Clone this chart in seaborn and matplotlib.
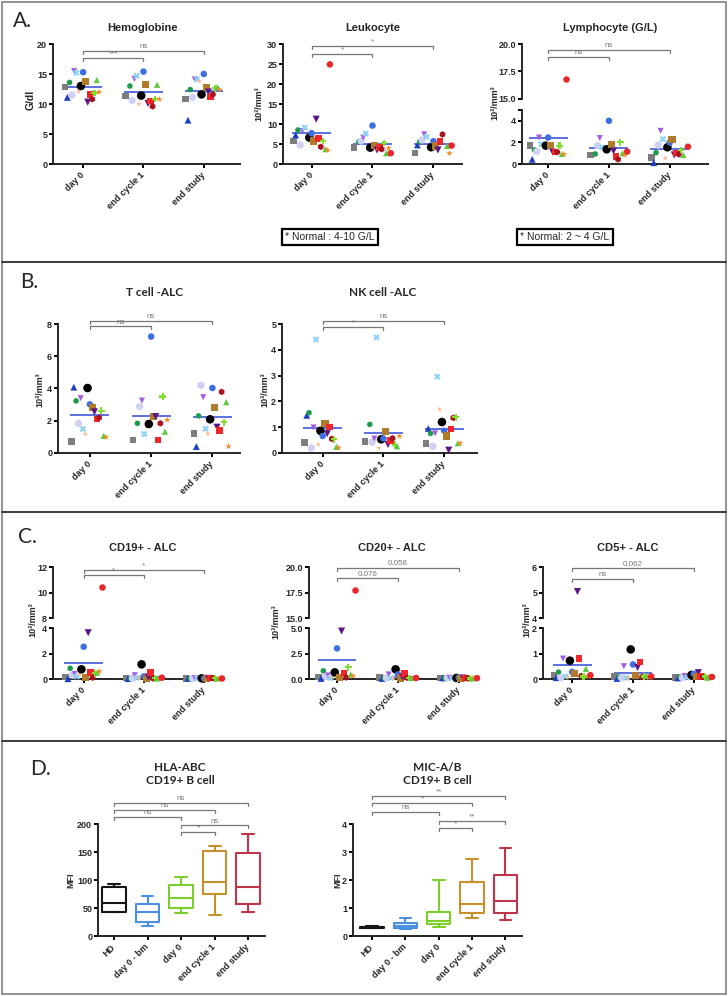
import numpy as np
import pandas as pd
import matplotlib
matplotlib.use("Agg")
import matplotlib.pyplot as plt
from matplotlib.lines import Line2D
from matplotlib.patches import Rectangle
import seaborn as sns

nan = np.nan
times = ["day 0", "end cycle 1", "end study"]
box_groups = ["HD", "day 0 - bm", "day 0", "end cycle 1", "end study"]

# one entry per patient, same order in every list below
patients = ["gray_s", "dblue_tri", "dgreen_c", "lavender_c", "lpurple_v", "lblue_x",
            "peach_star", "black_c", "blue_c", "brown_s", "dpurple_v", "red_s",
            "dred_h", "lime_plus", "green_tri", "orange_star", "red_c"]

# A. blood counts
hb_day0 = [12.8, 11.1, 13.6, 11.5, 15.5, 15.2, 12.1, 13.0, 15.3, 13.7, 10.3, 11.6, 10.8, 11.8, 14.0, 12.0, nan]
hb_cycle1 = [11.3, nan, 13.0, 10.6, 14.2, 14.7, 10.0, 11.4, 15.4, 13.3, 10.1, 10.5, 9.6, 10.8, 13.2, 10.8, nan]
hb_end = [10.8, 7.3, 12.4, 11.1, 14.1, 14.1, 13.8, 11.6, 15.0, 12.8, 12.0, 11.2, 11.6, 12.6, 12.8, 12.4, nan]

leu_day0 = [5.7, 7.25, 8.5, 4.75, 8.25, 9.1, nan, 6.6, 7.7, 5.75, 11.2, 6.4, 4.3, 5.75, 3.7, 3.5, 24.9]
leu_cycle1 = [4.1, nan, 5.6, 5.75, 6.6, 7.6, nan, 4.1, 9.6, 4.6, 3.5, 4.1, 3.7, 5.2, 2.7, 3.9, 2.7]
leu_end = [2.7, 4.75, 5.6, 6.0, 7.4, 6.8, nan, 4.2, 5.7, 4.5, 3.5, 5.6, 7.4, nan, 4.5, 2.7, 4.6]

lym_day0 = [1.7, 0.43, 1.3, 1.15, 2.45, 1.83, nan, 1.7, 2.45, 1.7, 1.1, 1.09, 1.1, 1.7, 0.93, 0.9, 16.8]
lym_cycle1 = [0.84, nan, 0.93, 1.7, 2.4, 1.55, nan, 1.36, 4.0, 1.83, 1.2, 0.68, 0.43, 2.0, 1.0, 0.84, 1.15]
lym_end = [0.59, 0.12, 1.05, 1.75, 3.07, 2.3, 0.55, 1.55, 1.98, 2.3, 0.84, 1.0, 0.9, 1.3, 0.84, nan, 1.6]

# B. T and NK cells
t_day0 = [0.7, 4.08, 3.23, 1.84, 3.4, 1.49, 1.18, 4.03, 3.02, 2.81, 2.55, 2.11, 2.19, 2.63, 1.06, 0.99, nan]
t_cycle1 = [0.8, nan, 1.84, 2.88, 3.25, 1.18, 1.63, 1.8, 7.22, 2.26, 2.26, 0.82, 1.84, 3.5, 1.32, 2.05, nan]
t_end = [1.2, 0.4, 2.3, 4.2, 3.46, 1.5, 1.2, 2.09, 4.03, 2.81, 1.6, 1.38, 3.79, 1.9, 3.15, 0.41, nan]

nk_day0 = [0.4, 1.46, 1.56, 0.2, 0.99, 4.4, 0.33, 0.86, 0.66, 1.15, 0.75, 1.0, 0.55, 0.53, 0.24, 0.2, nan]
nk_cycle1 = [0.45, nan, 1.11, 0.42, 0.56, 4.48, 0.2, 0.53, 0.56, 0.85, 0.33, 0.49, 0.57, 0.32, 0.26, 0.65, nan]
nk_end = [0.36, 0.95, 0.76, 0.26, 0.76, 2.96, 1.69, 1.2, 0.86, 0.66, 0.11, 0.93, 1.36, 1.38, 0.38, 0.38, nan]

# C. B cells
cd19_day0 = [0.15, 0.02, 0.84, 0.3, 0.4, 0.2, 0.4, 0.76, 2.53, 0.15, 3.63, 0.52, 0.1, 0.45, 0.5, 0.6, 10.45]
cd19_cycle1 = [0.08, 0.03, 0.05, 0.06, 0.3, 0.1, 0.08, 1.15, 0.2, 0.05, 0.15, 0.52, 0.05, 0.05, 0.04, 0.05, 0.1]
cd19_end = [0.04, 0.05, 0.03, 0.04, 0.06, 0.05, 0.04, 0.05, 0.05, 0.03, 0.05, 0.06, 0.06, 0.05, 0.04, 0.05, 0.04]

cd20_day0 = [0.2, 0.05, 0.8, 0.25, 0.35, 0.1, 0.2, 0.65, 3.0, 0.15, 4.7, 0.6, 0.15, 1.15, 0.45, 0.3, 17.75]
cd20_cycle1 = [0.15, 0.05, 0.1, 0.1, 0.45, 0.1, 0.08, 0.95, 0.45, 0.1, 0.2, 0.55, 0.12, 0.08, 0.1, 0.1, 0.1]
cd20_end = [0.1, 0.1, 0.1, 0.1, 0.12, 0.08, 0.05, 0.1, 0.15, 0.05, 0.1, 0.08, 0.06, 0.05, 0.06, 0.08, 0.08]

cd5_day0 = [0.15, 0.05, 0.27, 0.05, 0.8, 0.1, 0.08, 0.72, 0.28, 0.2, 5.05, 0.81, 0.12, 0.1, 0.4, 0.1, 0.15]
cd5_cycle1 = [0.1, 0.02, 0.08, 0.05, 0.5, 0.05, 0.05, 1.16, 0.57, 0.12, 0.45, 0.66, 0.08, 0.1, 0.12, 0.06, 0.1]
cd5_end = [0.06, 0.04, 0.08, 0.05, 0.12, 0.06, 0.06, 0.16, 0.2, 0.1, 0.25, 0.1, 0.08, 0.1, 0.05, 0.1, 0.08]

# D. five-number summaries (min, q1, median, q3, max)
hla_hd = [42, 43, 59, 88, 92]
hla_bm = [18, 25, 43, 57, 71]
hla_day0 = [41, 50, 67, 91, 106]
hla_cycle1 = [38, 75, 97, 151, 160]
hla_end = [42, 58, 88, 148, 182]

mic_hd = [0.27, 0.29, 0.31, 0.33, 0.35]
mic_bm = [0.25, 0.29, 0.36, 0.46, 0.64]
mic_day0 = [0.33, 0.42, 0.52, 0.86, 2.0]
mic_cycle1 = [0.64, 0.82, 1.14, 1.93, 2.75]
mic_end = [0.57, 0.82, 1.25, 2.18, 3.14]

# ---- styles ----
palette = dict(zip(patients, ["#7d7d7d", "#1d3fbf", "#1e9b4a", "#cfd0f2", "#a35ee0", "#8ed3f5",
                              "#f9b98e", "#000000", "#3d6fe3", "#b07b2a", "#5a1682", "#f0262b",
                              "#a9131f", "#80e02c", "#5dc93c", "#f68a24", "#e9262c"]))
marker_map = dict(zip(patients, ["s", "^", "o", "o", "v", "X", "*", "o", "o", "s", "v", "s",
                                 "h", "P", "^", "*", "o"]))
size_map = dict(zip(patients, [22, 24, 16, 28, 19, 22, 17, 38, 22, 26, 26, 22, 22, 22, 20, 24, 22]))
box_colors = dict(zip(box_groups, ["#151515", "#4a8fe0", "#7ccf2a", "#c8902c", "#c1354b"]))
MEAN = "#5b6fe0"
GRAY = "#777777"
AX_LW = 1.4
spread = np.linspace(-0.3, 0.3, len(patients))

sns.set_theme(style="ticks")
plt.rcParams["font.family"] = ["Liberation Sans", "DejaVu Sans"]

W, H = 728, 996
fig = plt.figure(figsize=(W / 100, H / 100), dpi=100)
fig.patch.set_facecolor("white")


def add_ax(l, t, r, b):
    return fig.add_axes([l / W, 1 - b / H, (r - l) / W, (b - t) / H])


def ftext(x, y, s, **kw):
    kw.setdefault("ha", "center")
    kw.setdefault("va", "center")
    fig.text(x / W, 1 - y / H, s, **kw)


def style_axis(ax, xlim, ylim, yticks, ylabels=None, xlabels=None):
    ax.set_xlim(xlim)
    ax.set_ylim(ylim)
    ax.set_yticks(yticks)
    if ylabels is not None:
        ax.set_yticklabels(ylabels)
    ax.spines["top"].set_visible(False)
    ax.spines["right"].set_visible(False)
    ax.spines["left"].set_linewidth(AX_LW)
    if xlabels is not None:
        ax.spines["bottom"].set_linewidth(AX_LW)
        ax.set_xticks(range(len(xlabels)))
        ax.set_xticklabels(xlabels, rotation=45, ha="right", va="center",
                           rotation_mode="anchor")
    else:
        ax.spines["bottom"].set_visible(False)
        ax.set_xticks([])
    ax.tick_params(length=3, width=AX_LW, labelsize=6.5, pad=1.2, color="black")
    ax.tick_params(axis="x", pad=4)
    for lab in ax.get_xticklabels() + ax.get_yticklabels():
        lab.set_fontweight("bold")
    ax.set_xlabel("")
    ax.set_ylabel("")
    ax.set_facecolor("none")


def scatter(ax, series, lo, hi, mean=True):
    rows = []
    for t, vals in enumerate(series):
        for p, v in enumerate(vals):
            if not np.isnan(v):
                rows.append((patients[p], t + spread[p], v, t))
    df = pd.DataFrame(rows, columns=["patient", "x", "value", "time"])
    sub = df[(df["value"] >= lo) & (df["value"] <= hi)]
    sns.scatterplot(data=sub, x="x", y="value", hue="patient", style="patient",
                    size="patient", palette=palette, markers=marker_map, sizes=size_map,
                    linewidth=0, legend=False, ax=ax, clip_on=False, zorder=3)
    if mean:
        means = df.groupby("time")["value"].mean()
        ax.hlines(means.values, means.index - 0.32, means.index + 0.32,
                  color=MEAN, lw=1.4, zorder=2)


def boxes(ax, groups):
    df = pd.DataFrame({"group": np.repeat(box_groups, [len(g) for g in groups]),
                       "value": np.concatenate(groups)})
    sns.boxplot(data=df, x="group", y="value", hue="group", order=box_groups,
                hue_order=box_groups, palette=box_colors, fill=False, whis=(0, 100),
                width=0.7, linewidth=1.5, saturation=1, legend=False, ax=ax)


def bracket(ax, x1, x2, y, label):
    lo, hi = ax.get_ylim()
    tick = 3.0 / (ax.get_position().height * H) * (hi - lo)
    ax.plot([x1, x1, x2, x2], [y - tick, y, y, y - tick], color=GRAY, lw=0.9,
            clip_on=False, zorder=4)
    ax.text((x1 + x2) / 2, y + 0.2 * tick, label, ha="center", va="bottom",
            fontsize=5.8, color=GRAY, clip_on=False)


# ---- A ----
ax = add_ax(53, 44, 240, 164)
scatter(ax, [hb_day0, hb_cycle1, hb_end], 0, 20)
style_axis(ax, (-0.5, 2.6), (0, 20), [0, 5, 10, 15, 20], xlabels=times)
bracket(ax, 0, 2, 18.9, "ns")
bracket(ax, 0, 1, 17.6, "***")

ax = add_ax(283, 44, 462, 164)
scatter(ax, [leu_day0, leu_cycle1, leu_end], 0, 30)
style_axis(ax, (-0.47, 2.47), (0, 30), [0, 5, 10, 15, 20, 25, 30], xlabels=times)
bracket(ax, 0, 2, 29.6, "*")
bracket(ax, 0, 1, 27.5, "*")

lym = [lym_day0, lym_cycle1, lym_end]
ax = add_ax(522, 44, 708, 99)
scatter(ax, lym, 15, 20, mean=False)
style_axis(ax, (-0.43, 2.63), (15, 20), [15, 17.5, 20], ["15.0", "17.5", "20.0"])
bracket(ax, 0, 2, 19.45, "ns")
bracket(ax, 0, 1, 18.85, "ns")
ax = add_ax(522, 110, 708, 164)
scatter(ax, lym, 0, 5)
style_axis(ax, (-0.43, 2.63), (0, 5), [0, 2, 4, 5], ["0", "2", "4", ""], xlabels=times)

# ---- B ----
ax = add_ax(58, 324, 240, 453)
scatter(ax, [t_day0, t_cycle1, t_end], 0, 8)
style_axis(ax, (-0.52, 2.45), (0, 8), [0, 2, 4, 6, 8], xlabels=times)
bracket(ax, 0, 2, 8.2, "ns")
bracket(ax, 0, 1, 7.85, "ns")

ax = add_ax(282, 324, 477, 453)
scatter(ax, [nk_day0, nk_cycle1, nk_end], 0, 5)
style_axis(ax, (-0.67, 2.54), (0, 5), [0, 1, 2, 3, 4, 5], xlabels=times)
bracket(ax, 0, 2, 5.12, "ns")
bracket(ax, 0, 1, 4.9, "*")

# ---- C ----
broken = [
    ([cd19_day0, cd19_cycle1, cd19_end], 53, 222, (-0.51, 2.3),
     (8, 12), [8, 10, 12], ["8", "10", "12"], (0, 4), [0, 2, 4], ["0", "2", "4"],
     [(0, 2, 11.8, "*"), (0, 1, 11.37, "*")]),
    ([cd20_day0, cd20_cycle1, cd20_end], 309, 477, (-0.46, 2.3),
     (15, 20), [15, 17.5, 20], ["15.0", "17.5", "20.0"], (0, 5), [0, 2.5, 5],
     ["0.0", "2.5", "5.0"], [(0, 2, 19.93, "0.058"), (0, 1, 18.9, "0.076")]),
    ([cd5_day0, cd5_cycle1, cd5_end], 543, 712, (-0.48, 2.3),
     (4, 6), [4, 5, 6], ["4", "5", "6"], (0, 2), [0, 1, 2], ["0", "1", "2"],
     [(0, 2, 5.95, "0.062"), (0, 1, 5.53, "ns")]),
]
for series, l, r, xl, uy, ut, ul, ly, lt, ll, brs in broken:
    ax = add_ax(l, 567, r, 618)
    scatter(ax, series, uy[0], uy[1], mean=False)
    style_axis(ax, xl, uy, ut, ul)
    for b in brs:
        bracket(ax, *b)
    ax = add_ax(l, 628, r, 679)
    scatter(ax, series, ly[0], ly[1])
    style_axis(ax, xl, ly, lt, ll, xlabels=times)

# ---- D ----
ax = add_ax(98, 824, 265, 936)
boxes(ax, [hla_hd, hla_bm, hla_day0, hla_cycle1, hla_end])
style_axis(ax, (-0.48, 4.5), (0, 200), [0, 50, 100, 150, 200], xlabels=box_groups)
for b in [(0, 4, 237.5, "ns"), (0, 3, 225, "ns"), (0, 2, 212.5, "ns"),
          (2, 4, 198, "ns"), (2, 3, 186, "*")]:
    bracket(ax, *b)

ax = add_ax(353, 824, 522, 936)
boxes(ax, [mic_hd, mic_bm, mic_day0, mic_cycle1, mic_end])
style_axis(ax, (-0.57, 4.5), (0, 4), [0, 1, 2, 3, 4], xlabels=box_groups)
for b in [(0, 4, 5.0, "**"), (0, 3, 4.75, "*"), (0, 2, 4.43, "ns"),
          (2, 4, 4.1, "**"), (2, 3, 3.86, "*")]:
    bracket(ax, *b)

# ---- texts ----
letter = dict(fontsize=15, family=["Lato", "DejaVu Sans"], ha="left")
ftext(13, 21, "A.", **letter)
ftext(20, 282, "B.", **letter)
ftext(18, 537, "C.", **letter)
ftext(30, 769, "D.", **letter)

arial_t = dict(fontsize=8, fontweight="bold")
calib_t = dict(fontsize=8.5, fontweight="bold", family=["Lato", "DejaVu Sans"])
ftext(143, 28, "Hemoglobine", **arial_t)
ftext(373, 28, "Leukocyte", **arial_t)
ftext(610, 28, "Lymphocyte (G/L)", **arial_t)
ftext(155, 292, "T cell -ALC", **calib_t)
ftext(383, 292, "NK cell -ALC", **calib_t)
ftext(143, 548, "CD19+ - ALC", **arial_t)
ftext(392, 548, "CD20+ - ALC", **arial_t)
ftext(628, 548, "CD5+ - ALC", **arial_t)
ftext(180, 767, "HLA-ABC", **calib_t)
ftext(180, 781, "CD19+ B cell", **calib_t)
ftext(437, 767, "MIC-A/B", **calib_t)
ftext(437, 781, "CD19+ B cell", **calib_t)

unit = "10³/mm³"
ylab = dict(fontsize=6.5, fontweight="bold", rotation=90)
ftext(31, 100, "G/dl", fontsize=7.5, fontweight="bold", rotation=90)
ftext(259, 104, unit, **ylab)
ftext(495, 103, unit, **ylab)
ftext(40, 390, unit, **ylab)
ftext(265, 390, unit, **ylab)
ftext(33, 620, unit, **ylab)
ftext(276, 622, unit, **ylab)
ftext(527, 620, unit, **ylab)
ftext(71, 880, "MFI", **ylab)
ftext(338, 880, "MFI", **ylab)

note = dict(fontsize=7.5, bbox=dict(boxstyle="square,pad=0.3", fc="white", ec="black", lw=1.6))
ftext(330, 237, "* Normal : 4-10 G/L", **note)
ftext(565, 237, "* Normal: 2 ~ 4 G/L", **note)

# ---- panel frames ----
fig.add_artist(Rectangle((2 / W, 2 / H), 724 / W, 992 / H, transform=fig.transFigure,
                         fill=False, ec="#8a8a8a", lw=1.3))
for y in [262, 512, 741]:
    fig.add_artist(Line2D([2 / W, 726 / W], [1 - y / H, 1 - y / H],
                          transform=fig.transFigure, color="#3a3a3a", lw=1.4))

fig.savefig("out.png", dpi=100, facecolor="white")
